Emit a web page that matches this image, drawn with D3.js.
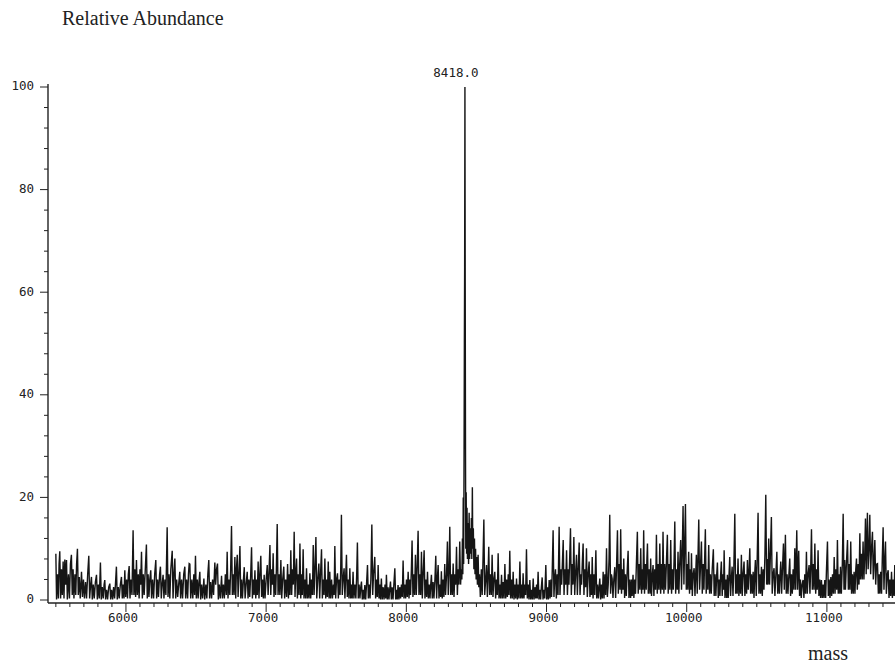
<!DOCTYPE html>
<html>
<head>
<meta charset="utf-8">
<script src="https://cdn.jsdelivr.net/npm/d3@7"></script>
<style>
  body { margin: 0; background: #fff; }
  svg { display: block; }
  .axis-label { font-family: 'Liberation Serif', 'Times New Roman', serif; font-size: 20px; fill: #222; }
  .tick-label { font-family: 'DejaVu Sans Mono', monospace; font-size: 12.5px; fill: #222; }
</style>
</head>
<body>
<div id="chart"></div>
<script>
// [mass, relative abundance], left to right
const spec5500 = [[5500,9],[5505,0.1],[5512,5],[5518,0.3],[5523,7],[5528,9.5],[5534,0.3],[5540,6],[5546,1],[5552,7.5],[5558,0.3],[5564,7.9],[5570,3],[5576,7.8],[5582,0.1],[5590,5],[5597,0.3],[5604,7],[5611,8.8],[5617,1],[5623,6],[5629,0.3],[5636,5],[5642,1],[5648,7],[5654,10],[5660,1],[5667,4.5],[5674,0.3],[5683,5.5],[5690,0.6],[5697,4],[5704,0.3],[5712,3.5],[5719,0.3],[5727,5],[5735,8.6],[5741,0.3],[5748,3],[5754,4.5],[5760,0.1],[5767,3],[5774,0.3],[5782,3.5],[5790,4.9],[5796,0.1],[5803,3],[5810,0.3],[5818,7.3],[5824,0.1],[5831,2.5],[5838,0.3],[5844,3],[5849,3.9],[5855,0.1],[5862,2],[5869,0.1],[5877,2.5],[5885,3.2],[5891,0.1],[5898,2],[5905,0.1],[5912,2.5],[5919,0.3],[5925,3],[5932,6.5],[5938,0.1],[5945,2.5],[5952,0.3],[5960,3],[5968,4.5],[5974,0.3],[5980,3],[5986,0.3],[5992,5.8],[5998,0.6],[6005,4],[6011,0.3],[6017,5],[6023,6.6],[6029,0.3],[6036,4],[6043,1],[6051,13.6],[6057,1],[6063,6],[6069,0.6],[6075,7.8],[6081,1],[6088,5],[6094,0.3],[6100,6],[6105,3],[6111,9.4],[6117,0.3],[6124,5],[6130,1],[6138,6],[6146,10.8],[6152,0.3],[6158,5],[6164,0.6],[6170,4],[6177,5.8],[6183,0.3],[6190,4],[6197,0.3],[6205,5],[6213,7.8],[6219,0.3],[6226,4],[6232,0.6],[6240,5],[6246,6.5],[6252,0.3],[6258,3],[6265,4.9],[6271,0.3],[6278,4],[6285,1],[6294,14.2],[6300,0.6],[6307,5],[6313,0.3],[6320,6],[6330,9.6],[6336,0.3],[6342,5],[6349,8.1],[6355,0.3],[6362,4],[6369,0.6],[6376,3],[6384,5.5],[6390,0.3],[6397,4],[6404,0.3],[6412,5],[6420,6.5],[6426,0.3],[6433,4],[6440,0.3],[6446,5],[6451,7.1]]

const spec6450 = [[6456,7],[6462,0.3],[6470,4],[6477,0.3],[6484,5],[6490,1],[6496,8.6],[6502,0.3],[6509,4],[6515,0.3],[6521,3.5],[6527,5.5],[6533,0.1],[6540,3],[6547,0.3],[6556,4.2],[6562,0.1],[6570,3],[6577,0.3],[6584,5],[6591,7.8],[6597,0.3],[6604,3.5],[6611,0.3],[6618,4],[6625,1],[6634,7.3],[6640,3],[6646,6],[6653,7.1],[6659,0.1],[6666,3],[6673,0.3],[6682,4.7],[6688,0.3],[6695,3],[6702,0.3],[6709,5],[6716,1],[6722,9.4],[6728,0.3],[6734,4],[6741,1],[6747,6],[6753,14.4],[6759,1],[6765,5],[6771,1],[6777,8.4],[6783,0.3],[6788,6],[6794,8.8],[6800,0.6],[6806,5],[6813,10.5],[6819,0.3],[6825,4],[6831,0.3],[6838,4],[6844,6.4],[6850,0.3],[6857,3],[6865,5.5],[6871,0.3],[6877,4],[6883,0.6],[6890,5],[6896,10.3],[6902,0.3],[6908,4],[6914,1],[6920,5.8],[6926,0.3],[6932,4],[6937,1],[6943,7.5],[6949,0.3],[6955,5],[6962,8.6],[6968,0.6],[6974,4],[6980,0.3],[6986,4.9],[6992,0.3],[7000,4],[7008,6.8],[7014,1],[7020,5],[7027,10.7],[7033,1],[7039,6],[7045,3],[7050,9.1],[7056,0.6],[7062,5],[7068,1],[7073,6],[7079,14.8],[7085,1],[7092,5],[7098,1],[7105,7.8],[7111,0.3],[7118,4],[7126,6.5],[7132,0.3],[7139,4],[7146,0.6],[7153,7],[7159,0.3],[7165,5],[7170,1],[7176,9.7],[7182,1],[7188,6],[7194,3],[7200,13.3],[7206,0.6],[7211,5],[7217,8.1],[7223,0.3],[7229,5],[7235,1],[7241,11],[7247,0.3],[7253,5],[7258,1],[7264,9.9],[7270,0.3],[7276,4],[7282,0.3],[7288,6.2],[7294,0.3],[7300,3],[7306,0.3],[7312,5.2],[7318,0.3],[7324,4],[7330,1],[7336,10.7],[7342,1],[7348,6],[7355,12.3],[7361,0.3],[7368,4],[7376,7.1],[7382,0.3],[7388,5],[7395,9.9],[7401,0.3],[7407,4],[7413,1],[7419,8.1],[7425,0.3],[7431,4],[7437,0.6],[7443,7.5]]

const spec7450 = [[7449,0.3],[7454,5.5],[7460,0.3],[7467,4],[7473,0.3],[7480,3],[7485,1],[7490,10.5],[7496,0.3],[7502,4],[7509,5.2],[7515,0.3],[7521,4],[7527,1],[7532,6],[7537,16.6],[7543,1],[7549,4],[7556,6.2],[7562,0.3],[7568,5],[7573,8.8],[7579,0.6],[7585,4],[7591,0.3],[7597,6.2],[7603,0.3],[7609,3],[7614,0.3],[7620,5.5],[7626,0.3],[7633,3],[7640,0.3],[7646,5],[7651,11.2],[7657,0.3],[7663,3],[7669,0.3],[7675,2.5],[7680,3.6],[7686,0.1],[7692,2],[7698,0.1],[7704,2.9],[7710,0.1],[7716,3],[7723,6.8],[7729,0.3],[7735,3],[7741,0.3],[7747,4],[7754,14.7],[7760,1],[7766,5],[7775,8.4],[7781,0.3],[7787,4],[7793,0.6],[7799,6.8],[7805,0.3],[7811,3],[7816,0.1],[7822,4.2],[7828,0.1],[7835,2.5],[7841,0.1],[7848,3],[7853,0.3],[7858,4.9],[7864,0.1],[7870,2.5],[7876,0.1],[7881,2],[7887,3.6],[7893,0.1],[7899,2.5],[7905,0.1],[7911,3],[7918,6.2],[7924,0.1],[7930,2],[7935,0.1],[7941,2.9],[7947,0.1],[7953,2.5],[7959,0.3],[7965,3],[7971,0.6],[7977,7.7],[7983,0.3],[7989,3],[7995,0.3],[8001,4],[8007,0.6],[8013,5.5],[8019,0.3],[8025,4],[8030,1],[8036,6],[8041,11.6],[8047,0.6],[8053,5],[8059,1],[8065,8.8],[8071,1],[8077,6],[8084,13.5],[8090,1],[8096,5],[8102,1],[8108,9.4],[8114,0.3],[8120,5],[8127,9.7],[8133,0.3],[8139,4],[8145,0.6],[8151,5.5],[8157,0.3],[8163,3],[8169,0.3],[8174,3],[8179,4.9],[8185,0.3],[8191,3.5],[8197,0.3],[8204,4],[8210,8.6],[8216,0.3],[8221,4],[8227,6.8],[8233,0.3],[8239,3],[8245,0.6],[8250,5.6],[8256,0.3],[8262,4],[8268,0.6],[8274,7],[8280,1],[8287,5],[8293,11.4],[8299,1],[8305,6],[8310,14.3],[8316,1],[8322,5],[8328,1],[8334,7.1],[8340,0.6],[8346,5],[8352,3],[8358,10.4],[8364,1],[8370,6],[8375,3],[8381,11.4],[8387,3],[8392,6]]

// the protein peak and its shoulders
const peak8418 = [[8396,4],[8400,12],[8403,5],[8406,20],[8409,7],[8412,30],[8414,50],[8416,65],[8418,100],[8420,62],[8422,30],[8424,10],[8427,21],[8430,9],[8433,18],[8436,8],[8440,15],[8444,7],[8448,17],[8452,8],[8456,14],[8460,9],[8464,16],[8467,8],[8471,22],[8474,10],[8478,14],[8482,6],[8486,12],[8490,5],[8494,10],[8498,4],[8502,8.4],[8507,3],[8512,8.8],[8517,2.5]]

const spec8520 = [[8522,5],[8528,0.6],[8535,6],[8541,1],[8547,8],[8553,15.7],[8559,1],[8566,4],[8572,6.8],[8578,0.6],[8583,5],[8588,10.4],[8594,1],[8600,5],[8606,1],[8612,8.8],[8618,0.6],[8624,4],[8631,5.5],[8637,0.3],[8643,4],[8649,1],[8655,9.1],[8661,0.3],[8667,3],[8673,0.3],[8679,4.9],[8685,0.3],[8691,3.5],[8697,0.3],[8703,7],[8709,0.3],[8715,4],[8721,0.6],[8727,5],[8732,1],[8738,9.6],[8744,0.3],[8750,4],[8756,0.3],[8762,5.5],[8768,0.1],[8774,3],[8780,0.3],[8786,4.2],[8792,0.1],[8798,3],[8804,0.3],[8810,7.5],[8816,0.3],[8822,3],[8828,0.3],[8833,5.2],[8839,0.3],[8845,3],[8851,1],[8857,9.9],[8863,0.3],[8869,3],[8875,0.1],[8881,3.9],[8887,0.1],[8893,2],[8899,0.1],[8905,4.2],[8911,0.1],[8917,2.5],[8923,0.3],[8929,3],[8934,0.3],[8940,5.5],[8946,0.1],[8952,2],[8958,0.1],[8963,2.5],[8969,4.4],[8975,0.1],[8981,2],[8987,0.3],[8995,6.8],[9001,0.1],[9007,2.5],[9013,0.1],[9019,3.9],[9025,0.3],[9031,4],[9036,0.6],[9041,6],[9047,13.6],[9053,0.6],[9058,4],[9064,6],[9070,0.3],[9076,5],[9082,1],[9090,14.3],[9096,1],[9102,6],[9108,3],[9113,7],[9119,11.7],[9125,1],[9131,6],[9137,3],[9143,9.7],[9149,1],[9155,6],[9160,3],[9165,8],[9171,14],[9177,1],[9183,7],[9189,3],[9195,12.3],[9201,1],[9207,5],[9214,8.8],[9220,1],[9226,6],[9233,11.2],[9239,1],[9245,5],[9250,3],[9255,7],[9261,11],[9267,1],[9273,6],[9279,2.5],[9285,10.1],[9291,0.6],[9297,5],[9304,7.5],[9310,0.6],[9316,5],[9321,1],[9326,8.4],[9332,0.3],[9338,5],[9344,1],[9352,9.7],[9358,0.3],[9364,3],[9370,0.3],[9375,2.5],[9380,4.2],[9386,0.1],[9392,3],[9398,0.3],[9404,5.5],[9410,0.3],[9416,5],[9422,1],[9428,10.1],[9434,0.6]]

const spec9440 = [[9440,3],[9446,8],[9451,16.6],[9457,1.2],[9463,5],[9468,4.2],[9474,0.4],[9480,4],[9487,6.4],[9493,0.4],[9499,6],[9506,13.6],[9512,1.2],[9518,7],[9524,2],[9529,13.8],[9535,1.2],[9541,6],[9546,2],[9551,8.1],[9557,0.4],[9563,5],[9569,0.8],[9576,6],[9582,9.6],[9588,0.4],[9594,4],[9600,0.4],[9606,4],[9611,0.8],[9617,4.9],[9623,0.4],[9629,4],[9635,1.2],[9641,7],[9648,13.3],[9654,1.2],[9660,7],[9666,2],[9672,10.1],[9678,1.2],[9683,6],[9688,2],[9693,13.6],[9699,1.2],[9705,7],[9711,2],[9716,8],[9720,11],[9726,1.2],[9732,6],[9738,1.2],[9743,8.1],[9749,0.8],[9755,5],[9760,6.8],[9766,0.8],[9772,6],[9778,2],[9784,12.7],[9790,1.2],[9796,7],[9802,2],[9808,11],[9814,1.2],[9820,7],[9826,2],[9831,13.3],[9837,1.2],[9843,7],[9849,2],[9856,8],[9862,12.7],[9868,1.2],[9874,7],[9880,2],[9886,11.7],[9892,1.2],[9898,6],[9904,2],[9910,8],[9915,15.3],[9921,1.2],[9927,6],[9933,2],[9938,9.4],[9944,1.2],[9950,7],[9957,11.7],[9963,2],[9968,9],[9974,18.3],[9980,3],[9985,10],[9991,18.7],[9997,2],[10003,7],[10008,2],[10014,9.4],[10020,1.2],[10026,6],[10030,2],[10034,9.1],[10040,0.8],[10046,5],[10053,6.2],[10059,0.8],[10064,5],[10069,8.8],[10075,1.2],[10080,8],[10086,15.7],[10092,2],[10099,7],[10105,11.4],[10111,1.2],[10117,7],[10123,2],[10128,8],[10133,13.8],[10139,1.2],[10145,6],[10151,2],[10157,10.7],[10163,1.2],[10169,5],[10175,1.2],[10182,6],[10190,9.9],[10196,0.8],[10202,5],[10208,0.8],[10214,5],[10219,7.3],[10225,0.4],[10231,4],[10237,0.8],[10242,5],[10247,7.5],[10253,0.8],[10259,5],[10263,2],[10267,9.7],[10273,0.4],[10279,4],[10285,0.4],[10290,4.9],[10296,0.4],[10302,5],[10307,8.4],[10313,0.8],[10318,4],[10324,6.5],[10330,0.8],[10336,6],[10343,16.8],[10349,1.2],[10355,5],[10360,1.2],[10366,8.1],[10372,0.8],[10378,5],[10384,1.2],[10390,8.8],[10396,0.8],[10402,5],[10409,7.5],[10415,0.8],[10421,5],[10427,1.2],[10433,7.8]]

const spec10440 = [[10439,2],[10445,6],[10450,10.1],[10456,1.2],[10462,5],[10468,1.2],[10474,5.5],[10480,0.4],[10485,5],[10490,7.8],[10496,0.8],[10502,7],[10509,17],[10515,1.2],[10521,5],[10527,1.2],[10533,6.5],[10539,0.8],[10545,6],[10551,2],[10558,9],[10564,20.5],[10570,3],[10575,8],[10580,3],[10585,12],[10591,3],[10597,9],[10604,16.2],[10610,1.2],[10616,5],[10623,6.2],[10629,0.8],[10636,5],[10643,9.4],[10649,1.2],[10655,5],[10661,1.2],[10666,5],[10671,7.5],[10677,1.2],[10683,6],[10690,11],[10696,2],[10704,12.7],[10710,1.2],[10716,5],[10722,1.2],[10729,5],[10735,8.1],[10741,0.8],[10747,5],[10753,1.2],[10759,6],[10765,2],[10771,10.1],[10777,2],[10785,13.6],[10791,2],[10799,9.6],[10805,0.8],[10811,4],[10817,0.4],[10823,3],[10830,3.9],[10836,0.4],[10842,5],[10848,1.2],[10854,9.4],[10860,1.2],[10866,5],[10873,6.8],[10879,1.2],[10885,7],[10890,13.8],[10896,2],[10902,7],[10908,2],[10914,11],[10920,1.2],[10926,6],[10931,2],[10937,9.7],[10943,0.8],[10949,4],[10955,0.4],[10961,3.9],[10967,0.4],[10973,3],[10979,0.4],[10985,3.9],[10991,0.4],[10997,6],[11004,11.4],[11010,0.8],[11016,4],[11022,0.4],[11028,4.5],[11034,0.8],[11040,5],[11046,1.2],[11052,8.4],[11058,1.2],[11064,6],[11070,2],[11075,11.7],[11081,1.2],[11087,5],[11092,1.2],[11097,6.5],[11103,1.2],[11110,7],[11116,16.8],[11122,2],[11127,7.8],[11132,2],[11139,7],[11147,11.7],[11153,2],[11159,7],[11164,2],[11170,11.4],[11176,1.2],[11182,5],[11188,1.2],[11194,5.5],[11200,1.2],[11206,6],[11211,8.1],[11217,2],[11223,7],[11229,3],[11235,13],[11240,4],[11246,9],[11252,4],[11258,11.4],[11264,4],[11270,9],[11275,15.9],[11280,5],[11285,12],[11289,17],[11294,6],[11300,10],[11306,16.6],[11312,5],[11318,10],[11325,13.3],[11331,4],[11337,8],[11342,11.7],[11348,3],[11354,7],[11361,7.1],[11367,1.2],[11373,5],[11378,1.2],[11384,5.5],[11390,1.2],[11395,8],[11401,14.2],[11407,2],[11413,8],[11418,11.4],[11424,1.2],[11431,5],[11437,5.8],[11443,0.4],[11449,4],[11455,0.8],[11461,5.5],[11467,0.4],[11473,4],[11479,0.8],[11484,6.8],[11490,0.8],[11496,4]]

const spectrum = [].concat(spec5500, spec6450, spec7450, peak8418, spec8520, spec9440, spec10440)

const majorX = [6000, 7000, 8000, 9000, 10000, 11000]
const majorY = [0, 20, 40, 60, 80, 100]
const peakLabel = { mass: 8418, abundance: 100, text: '8418.0' }

const width = 895
const height = 663

const svg = d3
  .select('#chart')
  .append('svg')
  .attr('width', width)
  .attr('height', height)

const xScale = d3.scaleLinear().domain([5444, 11500]).range([48, 897])
const yScale = d3.scaleLinear().domain([0, 100]).range([600, 87])

// y axis: long ticks every 20, short ones every 4
const yAxis = svg.append('g').attr('transform', 'translate(48,0)')
yAxis.append('line')
  .attr('y1', 84).attr('y2', 603)
  .attr('stroke', '#222').attr('stroke-width', 1.4)
yAxis.selectAll('.ytick')
  .data(d3.range(0, 101, 4))
  .join('line')
  .attr('x1', (d) => (d % 20 === 0 ? -8 : -4))
  .attr('x2', 0)
  .attr('y1', (d) => yScale(d))
  .attr('y2', (d) => yScale(d))
  .attr('stroke', '#222')
yAxis.selectAll('.ylabel')
  .data(majorY)
  .join('text')
  .attr('class', 'tick-label')
  .attr('x', -14)
  .attr('y', (d) => yScale(d) - 1)
  .attr('dy', '0.35em')
  .attr('text-anchor', 'end')
  .text((d) => d)

// x axis: long ticks every 1000, short ones every 100
const xAxis = svg.append('g').attr('transform', 'translate(0,603)')
xAxis.append('line')
  .attr('x1', 48).attr('x2', width)
  .attr('stroke', '#222').attr('stroke-width', 1.4)
xAxis.selectAll('.xtick')
  .data(d3.range(5500, 11500, 100))
  .join('line')
  .attr('x1', (d) => xScale(d))
  .attr('x2', (d) => xScale(d))
  .attr('y1', 0)
  .attr('y2', (d) => (d % 1000 === 0 ? 9 : 4))
  .attr('stroke', '#222')
xAxis.selectAll('.xlabel')
  .data(majorX)
  .join('text')
  .attr('class', 'tick-label')
  .attr('x', (d) => xScale(d) - 3)
  .attr('y', 19)
  .attr('text-anchor', 'middle')
  .text((d) => d)

const line = d3
  .line()
  .x((d) => xScale(d[0]))
  .y((d) => yScale(d[1]))

svg.append('path')
  .attr('d', line(spectrum))
  .attr('fill', 'none')
  .attr('stroke', '#151515')
  .attr('stroke-width', 1.4)
  .attr('stroke-linejoin', 'miter')

svg.append('text')
  .attr('class', 'tick-label')
  .attr('x', xScale(peakLabel.mass) - 9)
  .attr('y', yScale(peakLabel.abundance) - 10)
  .attr('text-anchor', 'middle')
  .text(peakLabel.text)

svg.append('text')
  .attr('class', 'axis-label')
  .attr('x', 62)
  .attr('y', 25)
  .text('Relative Abundance')

svg.append('text')
  .attr('class', 'axis-label')
  .attr('x', 808)
  .attr('y', 660)
  .text('mass')
</script>
</body>
</html>
